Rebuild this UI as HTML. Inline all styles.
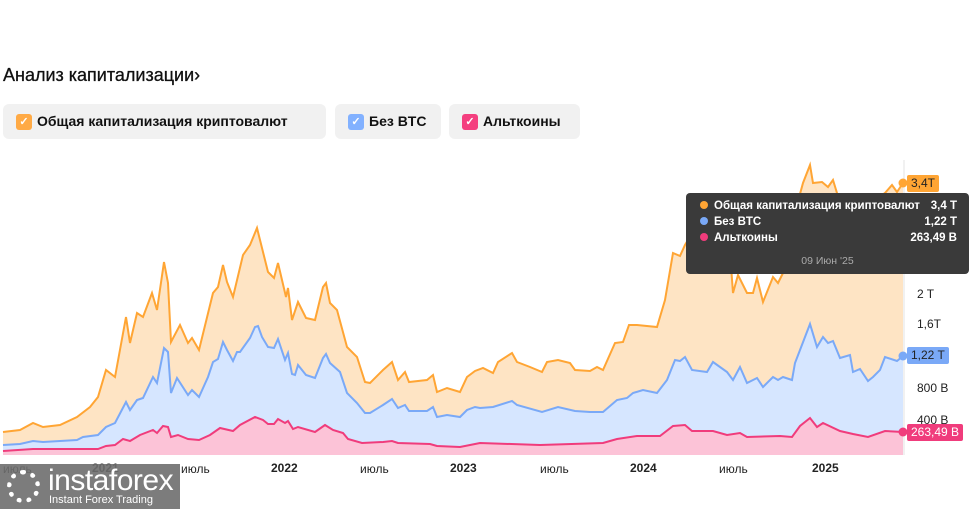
<!DOCTYPE html>
<html><head><meta charset="utf-8"><style>
body{margin:0;width:969px;height:509px;background:#fff;font-family:"Liberation Sans",sans-serif;position:relative;overflow:hidden}
.t{position:absolute;left:3px;top:65px;font-size:18px;color:#111;font-family:"Liberation Sans",sans-serif;-webkit-text-stroke:0.3px #111}
.lg{position:absolute;top:104px;height:35px;background:#f1f1f1;border-radius:6px;font-size:14px;font-weight:bold;color:#111;line-height:35px;box-sizing:border-box;padding-left:34px;white-space:nowrap}
.cb{position:absolute;left:13px;top:10px;width:16px;height:16px;border-radius:3px;color:#fff;font-size:11px;line-height:16px;text-align:center}
.ax{position:absolute;font-size:12px;color:#222}
.yl{position:absolute;left:917px;font-size:12px;color:#222}
.bd{position:absolute;left:907px;height:17px;line-height:17px;font-size:12px;padding:0 4px;border-radius:2px;white-space:nowrap}
.tt{position:absolute;left:686px;top:193px;width:283px;height:81px;background:#3a3a3a;border-radius:4px;color:#fff;font-size:11.5px;font-weight:bold;white-space:nowrap}
.tt .r{position:absolute;left:14px;right:12px;height:16px}
.tt .r i{display:inline-block;width:8px;height:8px;border-radius:50%;margin-right:6px}
.tt .r b{position:absolute;right:0}
</style></head><body>
<div class="t">Анализ капитализации›</div>
<div class="lg" style="left:3px;width:323px"><span class="cb" style="background:#ffaa45">✓</span>Общая капитализация криптовалют</div>
<div class="lg" style="left:335px;width:106px"><span class="cb" style="background:#82b1ff">✓</span>Без BTC</div>
<div class="lg" style="left:449px;width:131px"><span class="cb" style="background:#f43f7f">✓</span>Альткоины</div>

<svg style="position:absolute;left:0;top:0" width="969" height="509">
<line x1="904" y1="160" x2="904" y2="455" stroke="#e3e3e3"/>
<polygon fill="#fee4c4" points="3,455 3,432 20,430 33,423 43,427 60,425 77,417 90,407 98,397 106,370 115,377 126,317 130,343 137,313 143,317 152,293 157,310 164,262 168,283 171,342 180,325 188,343 192,338 199,350 213,293 218,287 223,265 227,282 233,297 243,255 250,245 257,228 262,248 268,272 274,278 278,263 286,297 288,288 292,320 298,302 306,318 315,320 323,287 326,283 330,303 337,310 347,347 357,357 365,382 370,383 383,370 392,362 398,380 405,372 409,382 427,380 433,375 437,392 447,388 460,392 467,377 475,371 483,368 493,373 498,362 512,353 517,362 530,367 542,372 547,362 558,360 570,363 575,370 590,371 597,367 603,370 615,343 623,342 629,325 637,325 657,327 665,300 673,253 680,256 685,245 695,228 700,240 705,268 712,250 720,235 728,225 733,293 738,275 747,293 753,293 757,278 763,302 773,277 778,283 783,273 790,232 797,205 803,183 810,165 813,183 822,182 828,187 833,180 837,193 845,210 855,205 865,215 875,200 885,193 892,185 897,192 903,183 903,455"/>
<polyline fill="none" stroke="#ffa534" stroke-width="2" points="3,432 20,430 33,423 43,427 60,425 77,417 90,407 98,397 106,370 115,377 126,317 130,343 137,313 143,317 152,293 157,310 164,262 168,283 171,342 180,325 188,343 192,338 199,350 213,293 218,287 223,265 227,282 233,297 243,255 250,245 257,228 262,248 268,272 274,278 278,263 286,297 288,288 292,320 298,302 306,318 315,320 323,287 326,283 330,303 337,310 347,347 357,357 365,382 370,383 383,370 392,362 398,380 405,372 409,382 427,380 433,375 437,392 447,388 460,392 467,377 475,371 483,368 493,373 498,362 512,353 517,362 530,367 542,372 547,362 558,360 570,363 575,370 590,371 597,367 603,370 615,343 623,342 629,325 637,325 657,327 665,300 673,253 680,256 685,245 695,228 700,240 705,268 712,250 720,235 728,225 733,293 738,275 747,293 753,293 757,278 763,302 773,277 778,283 783,273 790,232 797,205 803,183 810,165 813,183 822,182 828,187 833,180 837,193 845,210 855,205 865,215 875,200 885,193 892,185 897,192 903,183"/>
<polygon fill="#d6e6ff" points="3,455 3,445 20,444 33,441 43,442 77,440 83,437 98,435 106,427 115,423 126,402 130,410 137,400 143,398 153,377 157,383 164,348 168,352 171,393 177,378 188,395 192,390 199,397 208,377 213,362 218,359 223,342 227,350 233,361 237,352 240,352 250,338 255,327 258,326 262,337 268,347 274,348 278,339 285,360 288,353 292,374 295,375 298,365 306,375 315,378 323,358 326,354 330,363 340,372 347,393 357,403 365,413 370,413 383,405 392,399 398,408 405,405 409,411 427,411 433,407 437,417 447,415 460,417 467,410 475,407 480,408 493,407 512,401 517,405 542,412 558,407 575,411 590,412 603,412 617,400 627,398 633,393 643,390 657,393 667,380 675,360 680,361 685,357 692,370 707,372 713,362 727,372 733,380 740,367 747,383 757,378 763,387 773,377 778,380 783,377 792,380 795,363 810,324 817,347 823,337 828,343 833,341 840,358 850,355 853,372 860,369 868,381 873,377 880,370 885,357 897,361 903,356 903,455"/>
<polyline fill="none" stroke="#7aa9f7" stroke-width="2" points="3,445 20,444 33,441 43,442 77,440 83,437 98,435 106,427 115,423 126,402 130,410 137,400 143,398 153,377 157,383 164,348 168,352 171,393 177,378 188,395 192,390 199,397 208,377 213,362 218,359 223,342 227,350 233,361 237,352 240,352 250,338 255,327 258,326 262,337 268,347 274,348 278,339 285,360 288,353 292,374 295,375 298,365 306,375 315,378 323,358 326,354 330,363 340,372 347,393 357,403 365,413 370,413 383,405 392,399 398,408 405,405 409,411 427,411 433,407 437,417 447,415 460,417 467,410 475,407 480,408 493,407 512,401 517,405 542,412 558,407 575,411 590,412 603,412 617,400 627,398 633,393 643,390 657,393 667,380 675,360 680,361 685,357 692,370 707,372 713,362 727,372 733,380 740,367 747,383 757,378 763,387 773,377 778,380 783,377 792,380 795,363 810,324 817,347 823,337 828,343 833,341 840,358 850,355 853,372 860,369 868,381 873,377 880,370 885,357 897,361 903,356"/>
<polygon fill="#fcc3d7" points="3,455 3,451 33,449 98,449 106,446 115,445 123,439 130,441 140,435 153,430 157,433 163,426 168,427 171,437 178,435 188,439 199,440 210,435 220,428 233,431 240,425 255,417 263,420 268,424 274,424 278,419 285,423 288,421 293,429 298,427 315,432 325,425 333,430 343,433 348,439 362,443 383,442 392,441 398,443 430,444 437,446 460,447 480,443 540,445 603,443 617,439 637,436 660,436 673,426 685,425 692,431 713,431 727,435 740,433 747,437 780,436 792,437 800,426 810,418 817,427 823,423 840,431 853,434 868,437 885,431 903,432 903,455"/>
<polyline fill="none" stroke="#f03c7c" stroke-width="2" points="3,451 33,449 98,449 106,446 115,445 123,439 130,441 140,435 153,430 157,433 163,426 168,427 171,437 178,435 188,439 199,440 210,435 220,428 233,431 240,425 255,417 263,420 268,424 274,424 278,419 285,423 288,421 293,429 298,427 315,432 325,425 333,430 343,433 348,439 362,443 383,442 392,441 398,443 430,444 437,446 460,447 480,443 540,445 603,443 617,439 637,436 660,436 673,426 685,425 692,431 713,431 727,435 740,433 747,437 780,436 792,437 800,426 810,418 817,427 823,423 840,431 853,434 868,437 885,431 903,432"/>
<circle cx="903" cy="183" r="4.5" fill="#ffa534"/>
<circle cx="903" cy="356" r="4.5" fill="#7aa9f7"/>
<circle cx="903" cy="432" r="4.5" fill="#f03c7c"/>
</svg>

<div class="yl" style="top:287px">2 T</div>
<div class="yl" style="top:317px">1,6T</div>
<div class="yl" style="top:381px">800 B</div>
<div class="yl" style="top:413px">400 B</div>
<div class="bd" style="top:175px;background:#ffa534;color:#222">3,4T</div>
<div class="bd" style="top:347px;background:#7aa9f7;color:#222">1,22 T</div>
<div class="bd" style="top:424px;background:#f03c7c;color:#fff">263,49 B</div>

<div class="ax" style="left:3px;top:462px">июль</div>
<div class="ax" style="left:92px;top:461px;font-weight:bold">2021</div>
<div class="ax" style="left:181px;top:462px">июль</div>
<div class="ax" style="left:271px;top:461px;font-weight:bold">2022</div>
<div class="ax" style="left:360px;top:462px">июль</div>
<div class="ax" style="left:450px;top:461px;font-weight:bold">2023</div>
<div class="ax" style="left:540px;top:462px">июль</div>
<div class="ax" style="left:630px;top:461px;font-weight:bold">2024</div>
<div class="ax" style="left:719px;top:462px">июль</div>
<div class="ax" style="left:812px;top:461px;font-weight:bold">2025</div>

<div style="position:absolute;left:0;top:464px;width:180px;height:45px;background:rgba(110,110,110,0.9)">
<div style="position:absolute;left:7px;top:6px;width:33px;height:33px;border-radius:50%;border:5px dotted #fff;box-sizing:border-box"></div>
<div style="position:absolute;left:48px;top:0px;color:#fff;font-size:30px;letter-spacing:-0.5px">instaforex</div>
<div style="position:absolute;left:49px;top:30px;color:#fff;font-size:11px">Instant Forex Trading</div>
</div>

<div class="tt">
<div class="r" style="top:7px"><i style="background:#ffa534"></i>Общая капитализация криптовалют<b>3,4 T</b></div>
<div class="r" style="top:23px"><i style="background:#7aa9f7"></i>Без BTC<b>1,22 T</b></div>
<div class="r" style="top:39px"><i style="background:#f03c7c"></i>Альткоины<b>263,49 B</b></div>
<div style="position:absolute;top:62px;width:100%;text-align:center;font-weight:normal;color:#aaa;font-size:10.5px">09 Июн '25</div>
</div>
</body></html>
